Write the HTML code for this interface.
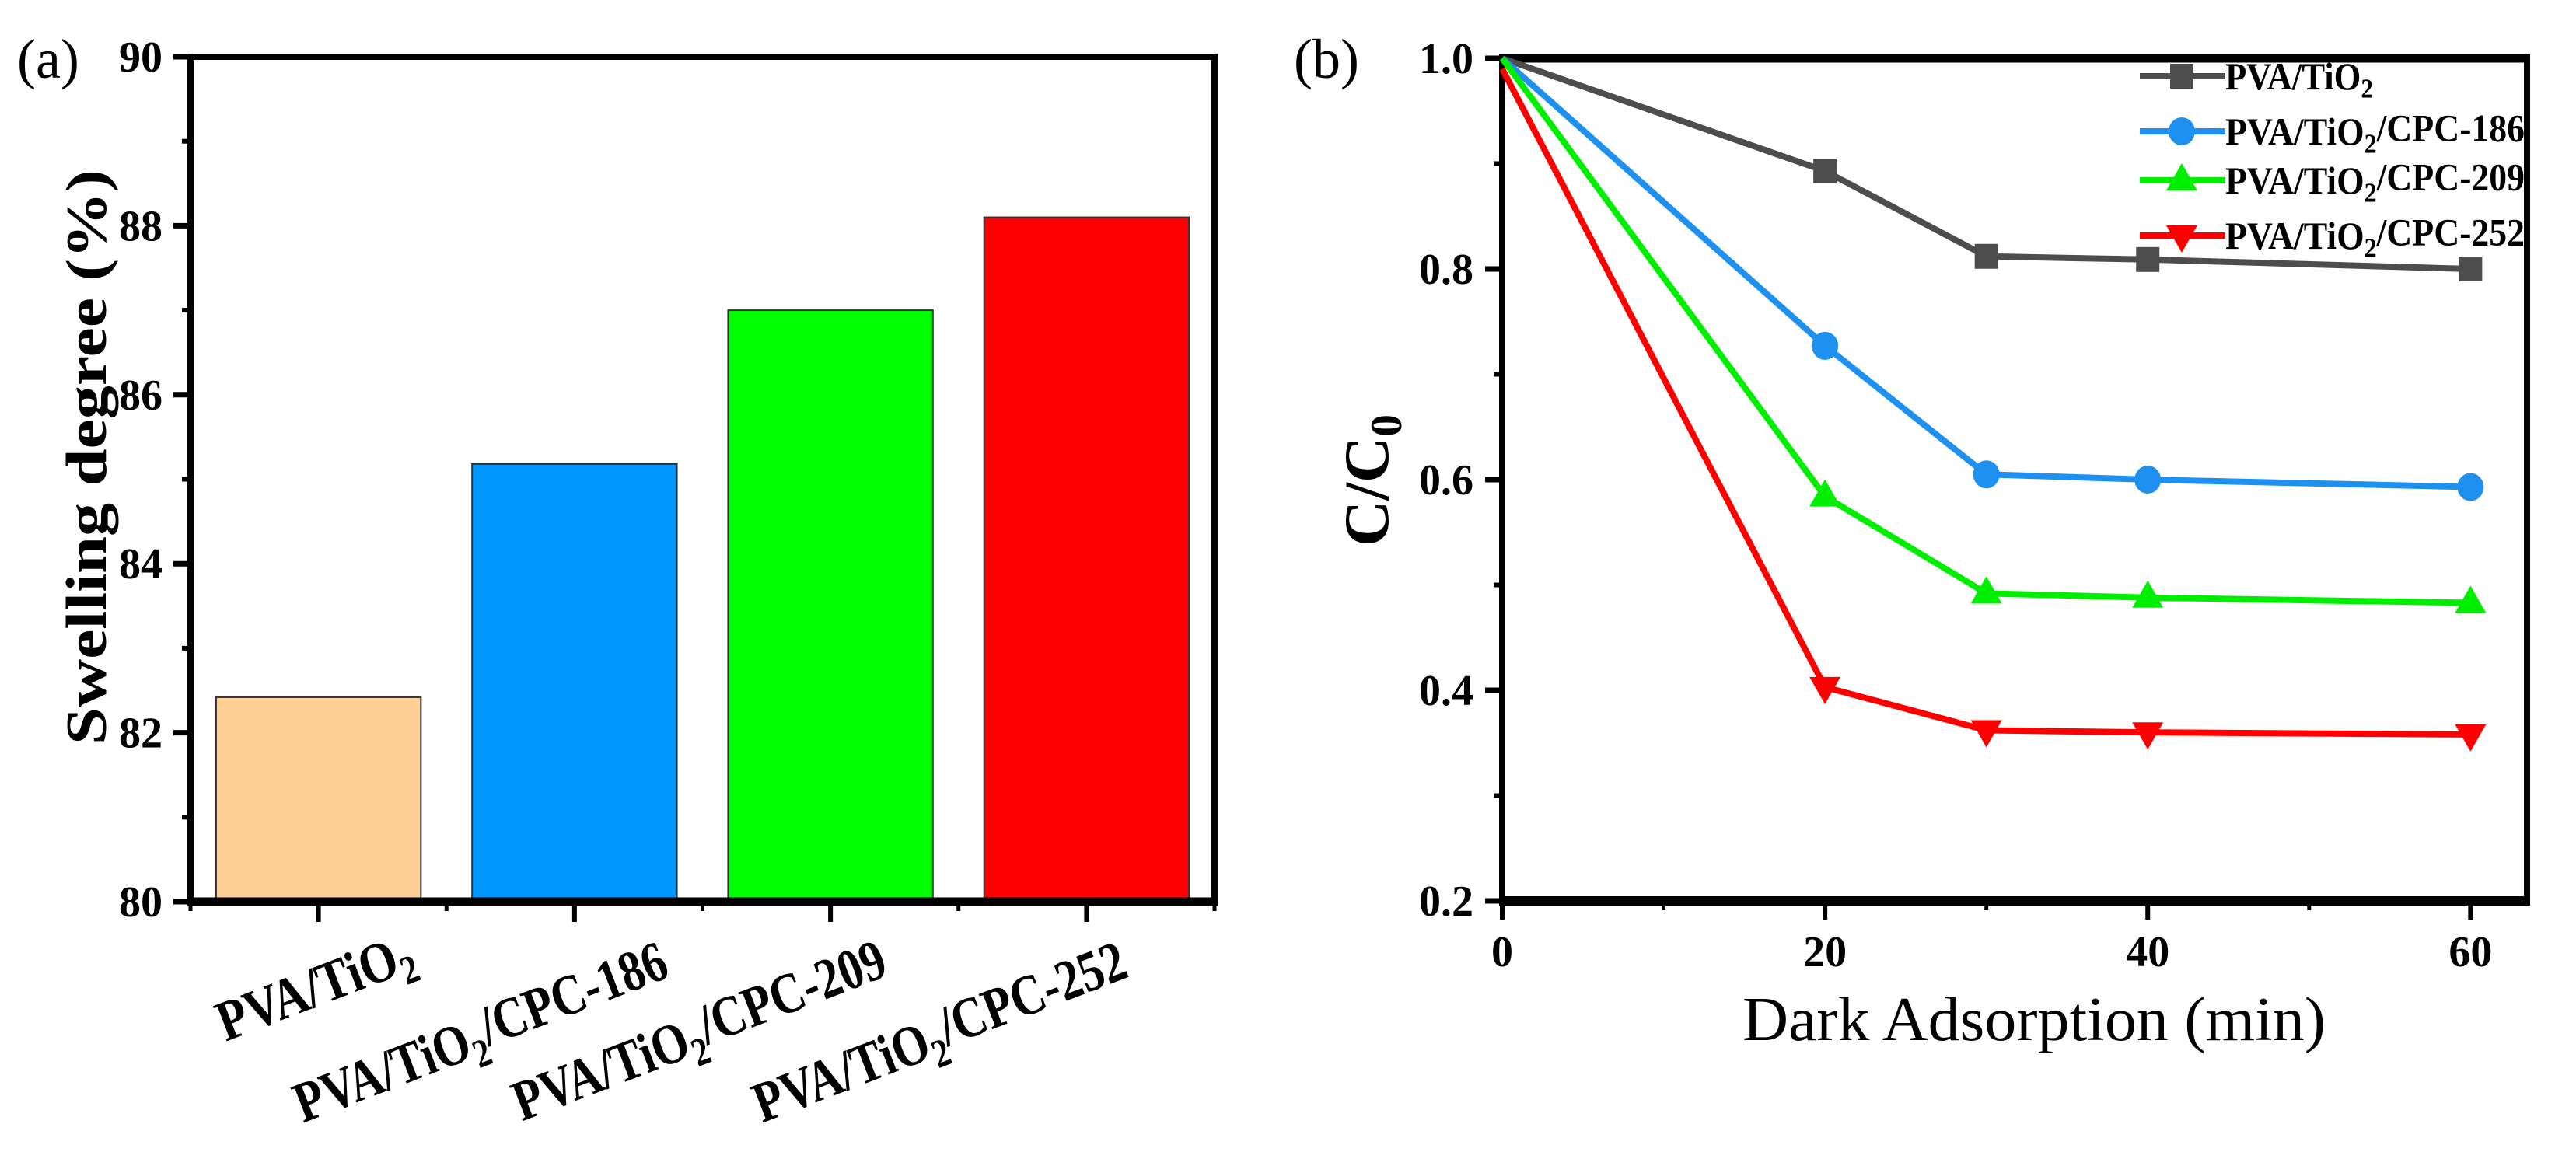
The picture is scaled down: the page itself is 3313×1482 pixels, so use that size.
<!DOCTYPE html>
<html><head><meta charset="utf-8">
<style>
html,body{margin:0;padding:0;background:#fff;}
svg{display:block;font-family:"Liberation Serif","Times New Roman",serif;}
</style></head>
<body>
<svg id="fig" width="3313" height="1482" viewBox="0 0 3313 1482" xmlns="http://www.w3.org/2000/svg">
<rect width="3313" height="1482" fill="#fff"/>
<g id="chartA"></g>
<g id="chartB"></g>
</svg>
<script>
// ---- Chart (a) data ----
const barCategories = ["PVA/TiO2", "PVA/TiO2/CPC-186", "PVA/TiO2/CPC-209", "PVA/TiO2/CPC-252"];
const barValues = [82.42, 85.18, 87.0, 88.1];
const barColors = ["#FDCF93", "#0096FF", "#00FF00", "#FF0000"];
const barYTicks = [80, 82, 84, 86, 88, 90];

// ---- Chart (b) data ----
const timeMinutes = [0, 20, 30, 40, 60];
const seriesNames = ["PVA/TiO2", "PVA/TiO2/CPC-186", "PVA/TiO2/CPC-209", "PVA/TiO2/CPC-252"];
const seriesTiO2 = [1.0, 0.893, 0.812, 0.809, 0.800];
const series186 = [1.0, 0.727, 0.605, 0.600, 0.593];
const series209 = [1.0, 0.584, 0.492, 0.488, 0.483];
const series252 = [0.99, 0.403, 0.362, 0.360, 0.358];
const lineXTicks = [0, 20, 40, 60];
const lineYTicks = [0.2, 0.4, 0.6, 0.8, 1.0];

const NS = "http://www.w3.org/2000/svg";
function mk(parent, tag, attrs, text) {
  const e = document.createElementNS(NS, tag);
  for (const k in attrs) e.setAttribute(k, attrs[k]);
  if (text !== undefined) e.textContent = text;
  parent.appendChild(e);
  return e;
}
function chemText(t, label) {
  const parts = label.split("TiO2");
  t.textContent = "";
  parts.forEach((p, i) => {
    if (p) { const s = document.createElementNS(NS, "tspan"); s.textContent = p; t.appendChild(s); }
    if (i < parts.length - 1) {
      const a = document.createElementNS(NS, "tspan"); a.textContent = "TiO"; t.appendChild(a);
      const b = document.createElementNS(NS, "tspan"); b.textContent = "2";
      b.setAttribute("dy", "0.3em"); b.setAttribute("font-size", "0.7em"); t.appendChild(b);
      if (parts[i + 1]) {
        const c = document.createElementNS(NS, "tspan"); c.textContent = "\u200B";
        c.setAttribute("dy", "-0.3em"); t.appendChild(c);
      }
    }
  });
}

// ================= Chart (a) =================
(function () {
  const g = document.getElementById("chartA");
  const L = 245, R = 1562, T = 73, B = 1160;
  const yMin = 80, yMax = 90;
  const y = v => B - (v - yMin) / (yMax - yMin) * (B - T);
  const step = (R - L) / barCategories.length;
  const xc = i => L + step * (i + 0.5);
  const bw = step * 0.8;

  barValues.forEach((v, i) => {
    const r = mk(g, "rect", { x: xc(i) - bw / 2, y: y(v), width: bw, height: B - y(v), fill: barColors[i], stroke: "#333", "stroke-width": 2 });
    
    
  });
  const fr = mk(g, "rect", { x: L, y: T, width: R - L, height: B - T, fill: "none", stroke: "#000", "stroke-width": 8 });
  
  
  mk(g, "line", { x1: L - 4, x2: R + 4, y1: B, y2: B, stroke: "#000", "stroke-width": 11 });
  barYTicks.forEach(v => {
    mk(g, "line", { x1: L - 22, x2: L, y1: y(v), y2: y(v), stroke: "#000", "stroke-width": 7 });
    const t = mk(g, "text", { x: 209, y: y(v) + 19, "text-anchor": "end", "font-size": 56, "font-weight": "bold" }, String(v));
    
    
  });
  for (let v = yMin + 1; v < yMax; v += 2) {
    mk(g, "line", { x1: L - 11, x2: L, y1: y(v), y2: y(v), stroke: "#000", "stroke-width": 6 });
  }
  const labelDx = [128, 127, 79, 59], labelY = [1245, 1262, 1260, 1262], labelLen = [265, 510, 510, 510];
  barCategories.forEach((c, i) => {
    mk(g, "line", { x1: xc(i), x2: xc(i), y1: B, y2: B + 26, stroke: "#000", "stroke-width": 6 });
    mk(g, "line", { x1: L + step * i, x2: L + step * i, y1: B, y2: B + 12, stroke: "#000", "stroke-width": 5 });
    const ex = xc(i) + labelDx[i], ey = labelY[i];
    const t = mk(g, "text", { x: ex, y: ey, "text-anchor": "end", "font-size": 74, "font-weight": "bold", textLength: labelLen[i], lengthAdjust: "spacingAndGlyphs", transform: `rotate(-21 ${ex} ${ey})` });
    chemText(t, c);
    
    
  });
  mk(g, "line", { x1: R, x2: R, y1: B, y2: B + 12, stroke: "#000", "stroke-width": 5 });
  const yt = mk(g, "text", { x: 0, y: 0, "text-anchor": "middle", "font-size": 74, "font-weight": "bold", textLength: 740, lengthAdjust: "spacingAndGlyphs", transform: "translate(136 588) rotate(-90)" }, "Swelling degree (%)");
  
  
  const pl = mk(g, "text", { x: 22, y: 100, "font-size": 72 }, "(a)");
  
  
})();

// ================= Chart (b) =================
(function () {
  const g = document.getElementById("chartB");
  const L = 1932, R = 3250, T = 75, B = 1159;
  const xMin = 0, xMax = 63.5, yMin = 0.2, yMax = 1.0;
  const x = v => L + (v - xMin) / (xMax - xMin) * (R - L);
  const y = v => B - (v - yMin) / (yMax - yMin) * (B - T);

  const fr = mk(g, "rect", { x: L, y: T, width: R - L, height: B - T, fill: "none", stroke: "#000", "stroke-width": 8 });
  
  
  mk(g, "line", { x1: L - 4, x2: R + 4, y1: B, y2: B, stroke: "#000", "stroke-width": 12 });
  mk(g, "line", { x1: L - 4, x2: R + 4, y1: T, y2: T, stroke: "#000", "stroke-width": 11 });

  lineYTicks.forEach(v => {
    mk(g, "line", { x1: L - 22, x2: L, y1: y(v), y2: y(v), stroke: "#000", "stroke-width": 7 });
    const t = mk(g, "text", { x: 1895, y: y(v) + 19, "text-anchor": "end", "font-size": 56, "font-weight": "bold" }, v.toFixed(1));
    
    
  });
  for (let v = 0.3; v < 1.0; v += 0.2) {
    mk(g, "line", { x1: L - 11, x2: L, y1: y(v), y2: y(v), stroke: "#000", "stroke-width": 6 });
  }
  lineXTicks.forEach(v => {
    mk(g, "line", { x1: x(v), x2: x(v), y1: B, y2: B + 24, stroke: "#000", "stroke-width": 6 });
    const t = mk(g, "text", { x: x(v), y: 1243, "text-anchor": "middle", "font-size": 56, "font-weight": "bold" }, String(v));
    
    
  });
  for (let v = 10; v < 60; v += 20) {
    mk(g, "line", { x1: x(v), x2: x(v), y1: B, y2: B + 12, stroke: "#000", "stroke-width": 5 });
  }

  const allSeries = [seriesTiO2, series186, series209, series252];
  const colors = ["#4D4D4D", "#1E90F0", "#00EE00", "#FF0000"];
  const shapes = ["square", "circle", "up", "down"];
  function marker(parent, shape, cx, cy, color) {
    let m;
    if (shape === "square") m = mk(parent, "rect", { x: cx - 15, y: cy - 16, width: 30, height: 32, fill: color });
    else if (shape === "circle") m = mk(parent, "ellipse", { cx: cx, cy: cy, rx: 17, ry: 18, fill: color });
    else if (shape === "up") m = mk(parent, "polygon", { points: `${cx},${cy - 22} ${cx + 20},${cy + 13} ${cx - 20},${cy + 13}`, fill: color });
    else m = mk(parent, "polygon", { points: `${cx},${cy + 22} ${cx + 20},${cy - 13} ${cx - 20},${cy - 13}`, fill: color });
    return m;
  }
  allSeries.forEach((s, si) => {
    const sg = mk(g, "g", {});
    
    
    const pts = s.map((v, i) => `${x(timeMinutes[i])},${y(v)}`).join(" ");
    mk(sg, "polyline", { points: pts, fill: "none", stroke: colors[si], "stroke-width": 8, "stroke-linejoin": "round" });
    s.forEach((v, i) => {
      if (i === 0) return;
      const m = marker(sg, shapes[si], x(timeMinutes[i]), y(v), colors[si]);
      
      
    });
  });

  const legY = [98, 169, 232, 303];
  const legLen = [190, 385, 385, 385];
  seriesNames.forEach((n, i) => {
    const lg = mk(g, "g", {});
    
    
    mk(lg, "line", { x1: 2752, x2: 2862, y1: legY[i], y2: legY[i], stroke: colors[i], "stroke-width": 8 });
    marker(lg, shapes[i], 2806, legY[i], colors[i]);
    const t = mk(lg, "text", { x: 2862, y: legY[i] + 17, "font-size": 50, "font-weight": "bold", textLength: legLen[i], lengthAdjust: "spacingAndGlyphs" });
    chemText(t, n);
  });

  const xt = mk(g, "text", { x: 2616, y: 1338, "text-anchor": "middle", "font-size": 80, textLength: 750, lengthAdjust: "spacingAndGlyphs" }, "Dark Adsorption (min)");
  
  
  const yt = mk(g, "text", { x: 0, y: 0, "text-anchor": "middle", "font-size": 82, "font-weight": "bold", transform: "translate(1785 618) rotate(-90)" });
  
  
  const a = document.createElementNS(NS, "tspan"); a.textContent = "C/C"; yt.appendChild(a);
  const b = document.createElementNS(NS, "tspan"); b.textContent = "0"; b.setAttribute("dy", "0.3em"); b.setAttribute("font-size", "0.7em"); yt.appendChild(b);
  const pl = mk(g, "text", { x: 1664, y: 100, "font-size": 72 }, "(b)");
  
  
})();
</script>
</body></html>
